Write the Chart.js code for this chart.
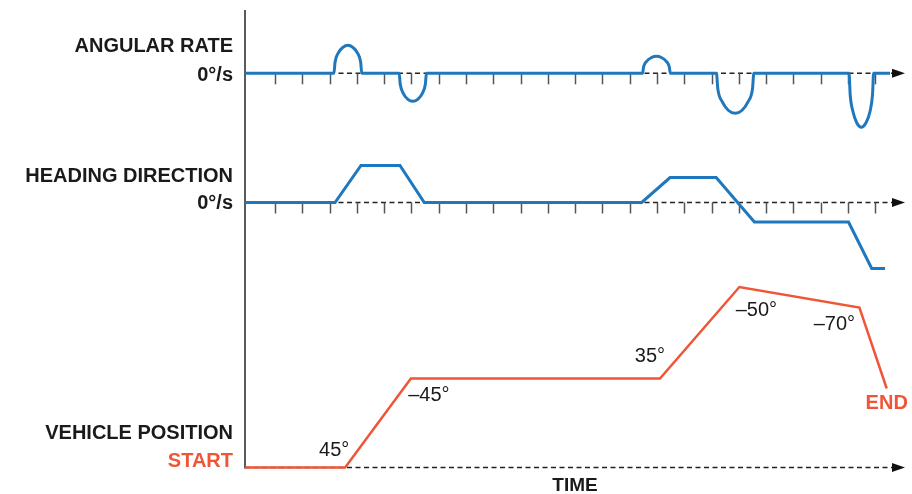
<!DOCTYPE html>
<html>
<head>
<meta charset="utf-8">
<title>Angular rate, heading direction and vehicle position</title>
<script src="https://cdn.jsdelivr.net/npm/chart.js@4/dist/chart.umd.min.js"></script>
<style>
    html, body { margin: 0; padding: 0; background: #fff; }
    #chart { display: block; }
</style>
</head>
<body>
<canvas id="chart" width="912" height="494"></canvas>
<script>
// Time axis (1 unit = one tick)
const tickTimes = [1, 2, 3, 4, 5, 6, 7, 8, 9, 10, 11, 12, 13, 14, 15, 16, 17, 18, 19, 20, 21, 22, 23];
const axisStart = -0.1;
const arrowTime = 24.09;

// Angular rate (arbitrary units) - five humps
const rateTimes = [
    -0.1,
    3.16, 3.20, 3.31, 3.49, 3.67, 3.85, 4.03, 4.14, 4.18,
    5.55, 5.59, 5.70, 5.87, 6.05, 6.23, 6.40, 6.51, 6.55,
    14.47, 14.51, 14.62, 14.80, 14.98, 15.16, 15.34, 15.45, 15.49,
    17.18, 17.23, 17.39, 17.62, 17.87, 18.11, 18.34, 18.50, 18.55,
    22.04, 22.08, 22.18, 22.33, 22.49, 22.65, 22.81, 22.90, 22.94,
    23.54
];
const rateValues = [
    0,
    0, 11, 20, 26, 28, 26, 20, 11, 0,
    0, -11, -20, -26, -28, -26, -20, -11, 0,
    0, 6.6, 12, 15.8, 17, 15.8, 12, 6.6, 0,
    0, -15.6, -28.4, -37.2, -40, -37.2, -28.4, -15.6, 0,
    0, -21, -38, -50, -54, -50, -38, -21, 0,
    0
];

// Heading direction (arbitrary units)
const headingTimes = [-0.1, 3.2, 4.15, 5.58, 6.47, 14.44, 15.48, 17.17, 18.57, 22.02, 22.87, 23.36];
const headingValues = [0, 0, 37, 37, 0, 0, 25, 25, -19.5, -19.5, -66, -66];

// Vehicle position (arbitrary units)
const positionTimes = [-0.1, 3.57, 5.98, 15.11, 18.02, 22.42, 23.42];
const positionValues = [0, 0, 89, 89, 180.5, 160, 79];
const turnLabels = ['', '45°', '–45°', '35°', '–50°', '–70°', 'END'];

const BLUE = '#1f78bd';
const RED = '#ef5638';
const INK = '#1a1a1a';
const FONT = '"Liberation Sans", Arial, Helvetica, sans-serif';

function toPoints(times, values) {
    return times.map((t, i) => ({ x: t, y: values[i] }));
}

// Label offsets from each red corner (px)
const turnOffsets = [null, [-11, -17], [18, 17], [-10, -22], [17, 23], [-25, 17], [0, 15]];

// Text at the left of the axis: [text, axis, offset from baseline, colour]
const sideLabels = [
    ['ANGULAR RATE', 'yRate', -27, INK],
    ['0°/s', 'yRate', 2, INK],
    ['HEADING DIRECTION', 'yHead', -26, INK],
    ['0°/s', 'yHead', 1, INK],
    ['VEHICLE POSITION', 'yPos', -34, INK],
    ['START', 'yPos', -6.5, RED]
];

const schematic = {
    id: 'schematic',
    beforeDatasetsDraw(chart) {
        const { ctx, chartArea, scales } = chart;
        const xs = scales.x;
        const left = xs.getPixelForValue(axisStart);
        const tip = xs.getPixelForValue(arrowTime);
        ctx.save();

        // vertical axis
        ctx.strokeStyle = '#5a5a5a';
        ctx.lineWidth = 2;
        ctx.beginPath();
        ctx.moveTo(left, chartArea.top);
        ctx.lineTo(left, scales.yPos.getPixelForValue(0) + 1);
        ctx.stroke();

        ['yRate', 'yHead', 'yPos'].forEach(id => {
            const y = scales[id].getPixelForValue(0);

            // dashed zero line
            ctx.strokeStyle = '#222';
            ctx.lineWidth = 1.5;
            ctx.setLineDash([5, 3.5]);
            ctx.beginPath();
            ctx.moveTo(left, y);
            ctx.lineTo(tip - 12, y);
            ctx.stroke();
            ctx.setLineDash([]);

            // arrow head
            ctx.fillStyle = '#111';
            ctx.beginPath();
            ctx.moveTo(tip, y);
            ctx.lineTo(tip - 13, y - 4.5);
            ctx.lineTo(tip - 13, y + 4.5);
            ctx.closePath();
            ctx.fill();

            // time ticks
            if (id !== 'yPos') {
                ctx.strokeStyle = '#555';
                ctx.lineWidth = 1.5;
                tickTimes.forEach(t => {
                    const x = Math.round(xs.getPixelForValue(t)) + 0.5;
                    ctx.beginPath();
                    ctx.moveTo(x, y);
                    ctx.lineTo(x, y + 11);
                    ctx.stroke();
                });
            }
        });
        ctx.restore();
    },
    afterDraw(chart) {
        const { ctx, scales } = chart;
        const xs = scales.x;
        ctx.save();
        ctx.textBaseline = 'middle';

        // left labels
        ctx.textAlign = 'right';
        ctx.font = 'bold 20px ' + FONT;
        sideLabels.forEach(([text, id, dy, color]) => {
            ctx.fillStyle = color;
            ctx.fillText(text, xs.getPixelForValue(axisStart) - 12, scales[id].getPixelForValue(0) + dy);
        });

        // angle labels on the vehicle path
        ctx.textAlign = 'center';
        turnLabels.forEach((text, i) => {
            if (!text) return;
            const x = xs.getPixelForValue(positionTimes[i]) + turnOffsets[i][0];
            const y = scales.yPos.getPixelForValue(positionValues[i]) + turnOffsets[i][1];
            const isEnd = i === turnLabels.length - 1;
            ctx.font = (isEnd ? 'bold ' : '') + '20px ' + FONT;
            ctx.fillStyle = isEnd ? RED : INK;
            ctx.fillText(text, x, y);
        });

        // time title
        ctx.font = 'bold 19px ' + FONT;
        ctx.fillStyle = INK;
        ctx.fillText('TIME', (xs.getPixelForValue(axisStart) + xs.getPixelForValue(arrowTime)) / 2, 485.5);
        ctx.restore();
    }
};

const ctx = document.getElementById('chart').getContext('2d');
const chart = new Chart(ctx, {
    type: 'line',
    data: {
        datasets: [
            {
                label: 'Angular rate',
                data: toPoints(rateTimes, rateValues),
                yAxisID: 'yRate',
                borderColor: BLUE,
                borderWidth: 3,
                cubicInterpolationMode: 'monotone',
                pointRadius: 0
            },
            {
                label: 'Heading direction',
                data: toPoints(headingTimes, headingValues),
                yAxisID: 'yHead',
                borderColor: BLUE,
                borderWidth: 3,
                tension: 0,
                pointRadius: 0
            },
            {
                label: 'Vehicle position',
                data: toPoints(positionTimes, positionValues),
                yAxisID: 'yPos',
                borderColor: RED,
                borderWidth: 2.5,
                tension: 0,
                pointRadius: 0
            }
        ]
    },
    options: {
        responsive: false,
        animation: false,
        devicePixelRatio: 1,
        layout: { padding: { left: 245, right: 4, top: 10, bottom: 24 } },
        plugins: {
            legend: { display: false },
            tooltip: { enabled: false }
        },
        scales: {
            x: { type: 'linear', min: axisStart, max: 24.2, display: false },
            yRate: { type: 'linear', min: -396.7, max: 63.3, display: false },
            yHead: { type: 'linear', min: -267.5, max: 192.5, display: false },
            yPos: { type: 'linear', min: -2.5, max: 457.5, display: false }
        }
    },
    plugins: [schematic]
});
</script>
</body>
</html>
